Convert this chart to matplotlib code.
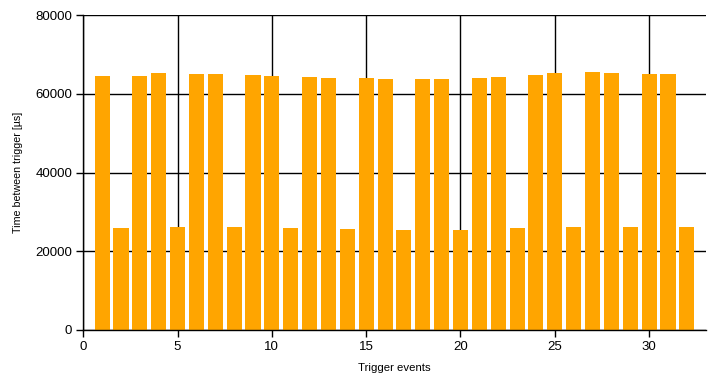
import matplotlib
matplotlib.use("Agg")
import matplotlib.pyplot as plt

events = list(range(1, 33))
times_us = [64400, 25930, 64400, 65160, 26180, 64900, 64900, 26180,
            64660, 64400, 25930, 64150, 63900, 25670, 63900, 63640,
            25420, 63640, 63640, 25420, 63900, 64150, 25930, 64660,
            65160, 26180, 65420, 65160, 26180, 64900, 64900, 26180]
x_ticks = [0, 5, 10, 15, 20, 25, 30]
y_ticks = [0, 20000, 40000, 60000, 80000]

plt.rcParams['font.family'] = ['Liberation Sans', 'DejaVu Sans']

fig = plt.figure(figsize=(7.16, 3.80), dpi=100)
ax = fig.add_axes([0.1163, 0.1316, 0.8693, 0.8289])

ax.bar(events, times_us, width=0.8, color='#FFA500', zorder=3)

ax.set_xlim(0, 33)
ax.set_ylim(0, 80000)
ax.set_xticks(x_ticks)
ax.set_yticks(y_ticks)
ax.grid(True, color='black', linewidth=1.0, zorder=0)
ax.set_axisbelow(True)

for s in ['top', 'right']:
    ax.spines[s].set_visible(False)
for s in ['left', 'bottom']:
    ax.spines[s].set_linewidth(1.0)
    ax.spines[s].set_zorder(4)

ax.tick_params(axis='both', direction='out', length=5, width=1,
               labelsize=9.5, colors='black', pad=3)

ax.set_xlabel('Trigger events', fontsize=8.2, labelpad=7)
ax.set_ylabel('Time between trigger [µs]', fontsize=7.7, labelpad=9)

fig.savefig('out.png', dpi=100)
